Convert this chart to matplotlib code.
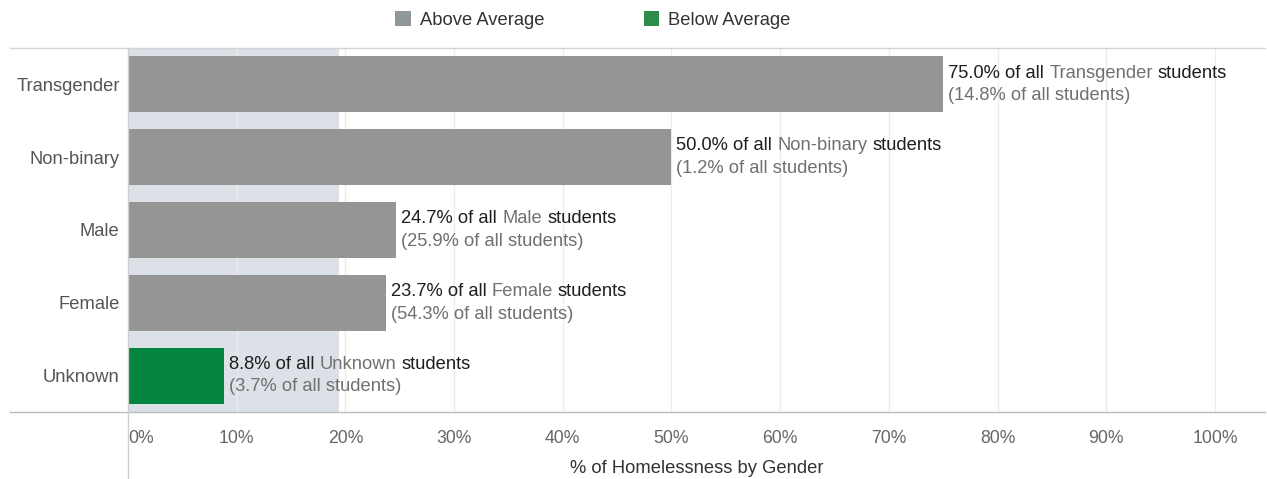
import matplotlib
matplotlib.use("Agg")
import matplotlib.pyplot as plt
import matplotlib.transforms as mtrans
from matplotlib.patches import Patch
from matplotlib.lines import Line2D
from matplotlib.offsetbox import TextArea, HPacker, VPacker, AnnotationBbox

plt.rcParams['font.family'] = ['Liberation Sans', 'DejaVu Sans']

categories = ["Transgender", "Non-binary", "Male", "Female", "Unknown"]
homeless_pct = [75.0, 50.0, 24.7, 23.7, 8.8]
share_pct = [14.8, 1.2, 25.9, 54.3, 3.7]
above_avg = [True, True, True, True, False]
average_pct = 19.4
xticks = [0, 10, 20, 30, 40, 50, 60, 70, 80, 90, 100]
xtick_labels = [f"{t}%" for t in xticks]

GRAY = "#959596"
GREEN = "#03853f"
BAND = "#dce1e8"
DARK = "#1e1e1e"
MID = "#707070"
FS = 13.2

W, H = 1267, 479
fig = plt.figure(figsize=(W / 100, H / 100), dpi=100)
ax = fig.add_axes([128 / W, (H - 412) / H, 1137 / W, 364 / H])

ypos = list(range(len(categories)))
ax.axvspan(0, average_pct, color=BAND, zorder=0, lw=0)
for t in xticks[1:]:
    ax.axvline(t, color="#ececec", lw=1, zorder=1)

colors = [GRAY if a else GREEN for a in above_avg]
ax.barh(ypos, homeless_pct, height=0.77, color=colors, zorder=2)

ax.set_xlim(0, 104.6)
ax.set_ylim(len(categories) - 0.5, -0.5)
ax.set_yticks(ypos)
ax.set_yticklabels(categories, color="#555555", fontsize=FS)
ax.set_xticks(xticks)
ax.set_xticklabels(xtick_labels, color="#666666", fontsize=FS - 0.5)
lbl0 = ax.get_xticklabels()[0]
lbl0.set_horizontalalignment("left")
lbl0.set_transform(lbl0.get_transform() + mtrans.ScaledTranslation(3 / 100, 0, fig.dpi_scale_trans))
ax.tick_params(axis="both", length=0)
ax.tick_params(axis="x", pad=13)
ax.tick_params(axis="y", pad=6)
for s in ax.spines.values():
    s.set_visible(False)
ax.set_xlabel("% of Homelessness by Gender", color="#333333", fontsize=FS, labelpad=9)

# frame lines
fig.add_artist(Line2D([10 / W, 1265 / W], [(H - 48) / H] * 2, color="#d4d4d4", lw=1))
fig.add_artist(Line2D([10 / W, 1265 / W], [(H - 412) / H] * 2, color="#bcbcbc", lw=1))
fig.add_artist(Line2D([128 / W] * 2, [0, (H - 48) / H], color="#cfcfcf", lw=1))

sp = 0.278 * FS
for i, (c, v, s) in enumerate(zip(categories, homeless_pct, share_pct)):
    l1 = HPacker(children=[
        TextArea(f"{v:.1f}% of all", textprops=dict(color=DARK, fontsize=FS)),
        TextArea(c, textprops=dict(color=MID, fontsize=FS)),
        TextArea("students", textprops=dict(color=DARK, fontsize=FS)),
    ], sep=sp, pad=0, align="baseline")
    l2 = TextArea(f"({s:.1f}% of all students)", textprops=dict(color=MID, fontsize=FS))
    box = VPacker(children=[l1, l2], sep=4, pad=0, align="left")
    ab = AnnotationBbox(box, (v, i), xybox=(5, 0), xycoords="data",
                        boxcoords="offset pixels", box_alignment=(0, 0.5),
                        frameon=False, pad=0, zorder=3)
    ax.add_artist(ab)

handles = [Patch(facecolor="#8f979b", edgecolor="none", label="Above Average"),
           Patch(facecolor="#2e8b4a", edgecolor="none", label="Below Average")]
fig.legend(handles=handles, loc="center", bbox_to_anchor=(593 / W, 1 - 20 / H), ncol=2,
           frameon=False, fontsize=FS, handlelength=0.85, handleheight=0.85,
           handletextpad=0.5, columnspacing=5.4, labelcolor="#333333")

fig.savefig("out.png", dpi=100)
